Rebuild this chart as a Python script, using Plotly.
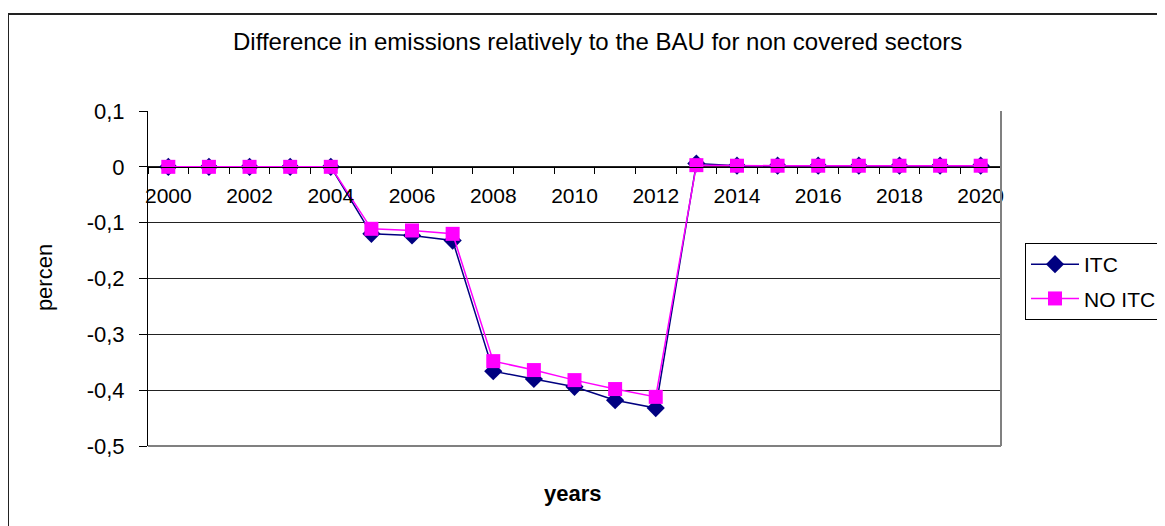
import plotly.graph_objects as go

years = list(range(2000, 2021))
itc = [0, 0, 0, 0, 0, -0.120, -0.123, -0.132, -0.366, -0.380, -0.394, -0.418, -0.432,
       0.006, 0.002, 0.002, 0.002, 0.002, 0.002, 0.002, 0.002]
no_itc = [0, 0, 0, 0, 0, -0.111, -0.114, -0.120, -0.348, -0.364, -0.382, -0.398, -0.412,
          0.003, 0.002, 0.002, 0.002, 0.002, 0.002, 0.002, 0.002]
x_ticks = list(range(2000, 2021, 2))
y_ticks = [-0.5, -0.4, -0.3, -0.2, -0.1, 0, 0.1]
y_labels = ["-0,5", "-0,4", "-0,3", "-0,2", "-0,1", "0", "0,1"]

OFF = 8  # default body margin of the page
W, H = 1165, 526
L, R, T, B = 148, 1002, 111, 446  # plot area in screen pixels

def px(x):
    return (x - L) / (R - L)

def py(y):
    return (B - y) / (B - T)

FONT = "Liberation Sans, Arial, sans-serif"

fig = go.Figure()
fig.add_trace(go.Scatter(x=years, y=itc, name="ITC", mode="lines+markers",
                         line=dict(color="#000080", width=1.5),
                         marker=dict(symbol="diamond", size=14, color="#000080"),
                         legendgroup="a"))
fig.add_trace(go.Scatter(x=years, y=no_itc, name="NO ITC", mode="lines+markers",
                         line=dict(color="#FF00FF", width=1.5),
                         marker=dict(symbol="square", size=14, color="#FF00FF"),
                         legendgroup="b"))

fig.update_layout(
    width=W, height=H, autosize=False,
    margin=dict(l=L - OFF, r=W - R + OFF, t=T - OFF, b=H - B + OFF, pad=0),
    paper_bgcolor="white", plot_bgcolor="white",
    font=dict(family=FONT, size=21, color="black"),
    showlegend=True,
    legend=dict(x=px(1025), y=py(243), xanchor="left", yanchor="top",
                bordercolor="black", borderwidth=1, bgcolor="white",
                font=dict(size=21), tracegroupgap=4, itemwidth=48),
    xaxis=dict(range=[1999.5, 2020.5], tickvals=x_ticks, ticktext=[str(v) for v in x_ticks],
               anchor="free", position=5 / 6, showline=True, linecolor="black", linewidth=1,
               showgrid=False, zeroline=False, ticks="", ticklabelstandoff=10,
               tickfont=dict(size=21),
               minor=dict(tick0=1999.5, dtick=1, ticks="outside", ticklen=6,
                          tickcolor="black", showgrid=False)),
    yaxis=dict(range=[-0.5, 0.1], tickvals=y_ticks, ticktext=y_labels,
               showline=True, linecolor="black", linewidth=1,
               showgrid=True, gridcolor="#222", gridwidth=1, zeroline=False,
               ticks="outside", ticklen=8, tickcolor="black", ticklabelstandoff=10,
               tickfont=dict(size=22)),
    annotations=[
        # outer chart frame
        dict(text=" ", x=px(7), y=py(13), xref="paper", yref="paper", showarrow=False,
             xanchor="left", yanchor="top", width=1190, height=540,
             bordercolor="#222", borderwidth=2, borderpad=0,
             bgcolor="rgba(0,0,0,0)"),
        dict(text="Difference in emissions relatively to the BAU for non covered sectors",
             x=px(598), y=py(41), xref="paper", yref="paper", showarrow=False,
             xanchor="center", yanchor="middle", font=dict(size=24)),
        dict(text="<b>years</b>", x=px(573), y=py(493), xref="paper", yref="paper",
             showarrow=False, xanchor="center", yanchor="middle", font=dict(size=22)),
        dict(text="percen", x=px(44), y=py(278), xref="paper", yref="paper",
             showarrow=False, xanchor="center", yanchor="middle", textangle=-90,
             font=dict(size=22)),
    ],
    shapes=[
        dict(type="line", xref="paper", yref="paper", x0=1, x1=1, y0=0, y1=1,
             line=dict(color="#808080", width=2), layer="above"),
        dict(type="line", xref="paper", yref="paper", x0=0, x1=1, y0=0, y1=0,
             line=dict(color="#808080", width=2), layer="above"),
    ],
)

fig.write_html("out.html")
